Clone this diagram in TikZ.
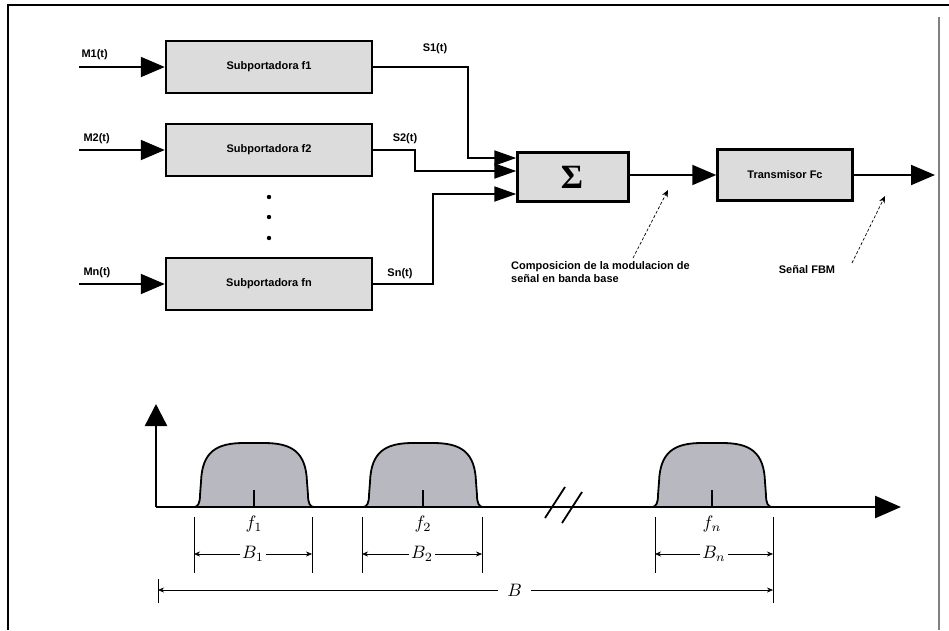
\documentclass[tikz,border=0pt]{standalone}
\usepackage{fontspec}
\setmainfont{Liberation Sans}
\newfontfamily\sigmafont{Liberation Serif}
\usepackage{xcolor}
\usetikzlibrary{arrows.meta}
\usetikzlibrary{math}

\definecolor{boxgray}{RGB}{220,220,220}
\definecolor{pulsegray}{RGB}{184,184,192}

\tikzset{
  block/.style={draw, line width=2.5pt, fill=boxgray, font=\bfseries\fontsize{11}{13}\selectfont},
  wire/.style={line width=2pt},
  sig/.style={line width=2pt, -{Triangle[length=24pt,width=20pt]}},
  sumin/.style={line width=2pt, -{Triangle[length=22pt,width=15pt]}},
  lbl/.style={font=\bfseries\fontsize{11}{13}\selectfont},
  note/.style={line width=0.7pt, densely dashed, -{Stealth[length=7pt,width=6pt]}},
  dim/.style={thin, {Stealth[length=6pt,width=5pt]}-{Stealth[length=6pt,width=5pt]}},
  ext/.style={thin},
  freq/.style={scale=1.8}
}

\begin{document}
\begin{tikzpicture}[x=1pt,y=-1pt]
\tikzmath{
\yaxis=507;
\ydim=554;
}
\useasboundingbox (0,0) rectangle (949,630);

% frame
\draw[line width=1.5pt] (8,630) -- (8,5) -- (949,5);
\draw[line width=1.5pt, gray] (939,17) -- (939,630);

% subcarrier blocks
\node[block, minimum width=206pt, minimum height=52pt] (sub1) at (269,67) {Subportadora f1};
\node[block, minimum width=206pt, minimum height=52pt] (sub2) at (269,150) {Subportadora f2};
\node[block, minimum width=206pt, minimum height=52pt] (subn) at (269,284) {Subportadora fn};
\node[block, minimum width=111pt, minimum height=49pt] (sum) at (573,177) {};
\node[font=\sigmafont\bfseries\fontsize{34}{36}\selectfont] (sigma) at (572,177) {Σ};
\node[block, minimum width=135pt, minimum height=51pt] (tx) at (785,175) {Transmisor Fc};

% inputs
\coordinate (m1) at (79,67);
\coordinate (m2) at (79,150);
\coordinate (mn) at (79,284);
\draw[sig] (m1) -- (sub1.west);
\draw[sig] (m2) -- (sub2.west);
\draw[sig] (mn) -- (subn.west);
\node[lbl, anchor=west] (lm1) at (78,55) {M1(t)};
\node[lbl, anchor=west] (lm2) at (80,139) {M2(t)};
\node[lbl, anchor=west] (lmn) at (80,273) {Mn(t)};

% dots
\foreach \yy in {197,217,238}
  \fill (269,\yy) circle (2.2pt);

% to the sum
\coordinate (s1) at (468,158);
\coordinate (s2) at (415,171);
\coordinate (sn) at (433,194);
\draw[sumin] (sub1.east) -| (s1) -- (s1 -| sum.west);
\draw[sumin] (sub2.east) -| (s2) -- (s2 -| sum.west);
\draw[sumin] (subn.east) -| (sn) -- (sn -| sum.west);
\node[lbl] (ls1) at (435,49) {S1(t)};
\node[lbl] (ls2) at (405,139) {S2(t)};
\node[lbl] (lsn) at (400,274) {Sn(t)};

% sum to transmitter and out
\draw[sig] (sum.east |- tx.west) -- (tx.west);
\coordinate (out) at (935,175);
\draw[sig] (tx.east) -- (out);

% notes
\node[lbl, anchor=north west, align=left, inner sep=0pt] (comp) at (511,261) {Composicion de la modulacion de\\señal en banda base};
\node[lbl, inner sep=0pt] (fbm) at (807,270) {Señal FBM};
\coordinate (c1) at (668,190);
\coordinate (c2) at (885,196);
\draw[note] (633,258) -- (c1);
\draw[note] (852,263) -- (c2);

% spectrum
\foreach \c in {254,423,712} {
  \filldraw[fill=pulsegray, line width=1.8pt]
    ({\c-60},\yaxis) .. controls ({\c-56},\yaxis) and ({\c-54},503) .. ({\c-54},495)
    -- ({\c-53},482)
    .. controls ({\c-52},452) and ({\c-38},443) .. ({\c-10},443)
    -- ({\c+10},443)
    .. controls ({\c+38},443) and ({\c+52},452) .. ({\c+53},482)
    -- ({\c+54},495)
    .. controls ({\c+54},503) and ({\c+56},\yaxis) .. ({\c+60},\yaxis);
  \draw[line width=1.5pt] (\c,\yaxis) -- (\c,490);
}
\coordinate (org) at (156,\yaxis);
\coordinate (ytip) at (156,404);
\coordinate (xtip) at (901,\yaxis);
\draw[line width=2.5pt, -{Triangle[length=22pt,width=22pt]}] (org) -- (ytip);
\draw[line width=2.5pt, -{Triangle[length=26pt,width=22pt]}] (org) -- (xtip);

% break
\draw[line width=1.8pt] (545,518) -- (565,487);
\draw[line width=1.8pt] (562,523) -- (582,492);

% frequencies
\node[freq] (f1) at (254,524) {$f_1$};
\node[freq] (f2) at (423,524) {$f_2$};
\node[freq] (fn) at (712,524) {$f_n$};

% bandwidths
\foreach \a/\b in {194/312,362/482,655/773} {
  \draw[ext] (\a,517) -- (\a,573);
  \draw[ext] (\b,517) -- (\b,573);
}
\draw[ext] (773,573) -- (773,603);
\draw[ext] (158,579) -- (158,603);
\coordinate (b1l) at (194,\ydim); \coordinate (b1r) at (312,\ydim);
\coordinate (b2l) at (362,\ydim); \coordinate (b2r) at (482,\ydim);
\coordinate (bnl) at (655,\ydim); \coordinate (bnr) at (773,\ydim);
\coordinate (bl) at (158,590); \coordinate (br) at (773,590);
\draw[dim] (b1l) -- (b1r) node[midway, fill=white, freq, inner sep=1pt] {$B_1$};
\draw[dim] (b2l) -- (b2r) node[midway, fill=white, freq, inner sep=1pt] {$B_2$};
\draw[dim] (bnl) -- (bnr) node[midway, fill=white, freq, inner sep=1pt] {$B_n$};
\draw[dim] (bl) -- (br) node[pos=0.58, fill=white, freq, inner xsep=5pt, inner ysep=1pt] {$B$};
\end{tikzpicture}
\end{document}
